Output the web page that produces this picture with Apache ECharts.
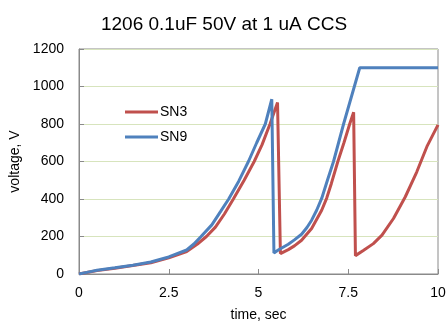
<!DOCTYPE html>
<html>
<head>
<meta charset="utf-8">
<script src="https://cdn.jsdelivr.net/npm/echarts@6/dist/echarts.min.js"></script>
<style>
  html, body { margin: 0; padding: 0; background: #fff; }
  #main { width: 448px; height: 321px; }
</style>
</head>
<body>
<div id="main"></div>
<script>
// SN3 (red) - time in sec, voltage in V
const sn3Time = [0, 0.25, 0.5, 1, 1.5, 2, 2.5, 3, 3.3, 3.55, 3.8, 4.05, 4.3, 4.6, 4.88, 5.1, 5.32, 5.53,
  5.61, 5.83, 6.0, 6.2, 6.48, 6.76, 6.9, 7.03, 7.21, 7.38, 7.54, 7.65,
  7.70, 7.93, 8.2, 8.44, 8.76, 9.09, 9.41, 9.69, 10];
const sn3Volt = [0, 9, 18, 31, 45, 60, 86, 120, 160, 200, 250, 320, 400, 500, 600, 690, 800, 915,
  109, 130, 150, 180, 243, 340, 405, 483, 600, 700, 800, 863,
  98, 127, 162, 207, 296, 412, 545, 679, 795];

// SN9 (blue)
const sn9Time = [0, 0.25, 0.5, 1, 1.5, 2, 2.5, 3, 3.2, 3.4, 3.7, 3.95, 4.17, 4.45, 4.72, 4.95, 5.19, 5.37,
  5.43, 5.55, 5.83, 6.0, 6.2, 6.35, 6.48, 6.62, 6.76, 6.92, 7.09, 7.37, 7.67, 7.82, 10];
const sn9Volt = [0, 10, 20, 33, 47, 64, 91, 128, 160, 200, 262, 335, 400, 495, 600, 700, 800, 932,
  112, 128, 159, 182, 212, 248, 287, 340, 403, 500, 600, 800, 1000, 1100, 1100];

const xTicks = [0, 2.5, 5, 7.5, 10];
const yTicks = [0, 200, 400, 600, 800, 1000, 1200];

const zip = (a, b) => a.map((v, i) => [v, b[i]]);

const chart = echarts.init(document.getElementById('main'));
const fontFamily = 'Liberation Sans, Arial, sans-serif';
const axisFont = { color: '#000', fontSize: 14, fontFamily: fontFamily };

const option = {
  animation: false,
  title: {
    text: '1206 0.1uF 50V at 1 uA CCS',
    left: 'center',
    top: 10,
    textStyle: { color: '#000', fontSize: 19, fontWeight: 'normal', fontFamily: fontFamily }
  },
  legend: {
    orient: 'vertical',
    left: 120,
    top: 100,
    icon: 'rect',
    itemWidth: 33,
    itemHeight: 3,
    itemGap: 11,
    textStyle: { color: '#000', fontSize: 14, fontFamily: fontFamily, padding: [0, 0, 0, -3] },
    data: ['SN3', 'SN9']
  },
  grid: {
    left: 79, right: 10, top: 49, bottom: 47,
    outerBoundsMode: 'none',
    containLabel: false,
    show: true, borderColor: '#8a8a8a', borderWidth: 1
  },
  xAxis: {
    type: 'value',
    min: xTicks[0], max: xTicks[xTicks.length - 1], interval: 2.5,
    name: 'time, sec',
    nameLocation: 'middle',
    nameGap: 34,
    nameTextStyle: axisFont,
    axisLine: { lineStyle: { color: '#8a8a8a' } },
    axisTick: { inside: true, length: 5, lineStyle: { color: '#8a8a8a' } },
    axisLabel: Object.assign({ margin: 12, formatter: v => String(v) }, axisFont),
    splitLine: { show: false }
  },
  yAxis: {
    type: 'value',
    min: yTicks[0], max: yTicks[yTicks.length - 1], interval: 200,
    name: 'voltage, V',
    nameLocation: 'middle',
    nameGap: 53,
    nameTextStyle: axisFont,
    axisLine: { show: true, lineStyle: { color: '#8a8a8a' } },
    axisTick: { show: true, inside: true, length: 5, lineStyle: { color: '#8a8a8a' } },
    axisLabel: Object.assign({ margin: 15, formatter: v => String(v) }, axisFont),
    splitLine: { lineStyle: { color: '#d7e4bd', width: 1 } }
  },
  series: [
    {
      name: 'SN3', type: 'line', symbol: 'none',
      lineStyle: { color: '#c0504d', width: 3 },
      itemStyle: { color: '#c0504d' },
      data: zip(sn3Time, sn3Volt)
    },
    {
      name: 'SN9', type: 'line', symbol: 'none',
      lineStyle: { color: '#4f81bd', width: 3 },
      itemStyle: { color: '#4f81bd' },
      data: zip(sn9Time, sn9Volt)
    }
  ]
};

chart.setOption(option);
</script>
</body>
</html>
